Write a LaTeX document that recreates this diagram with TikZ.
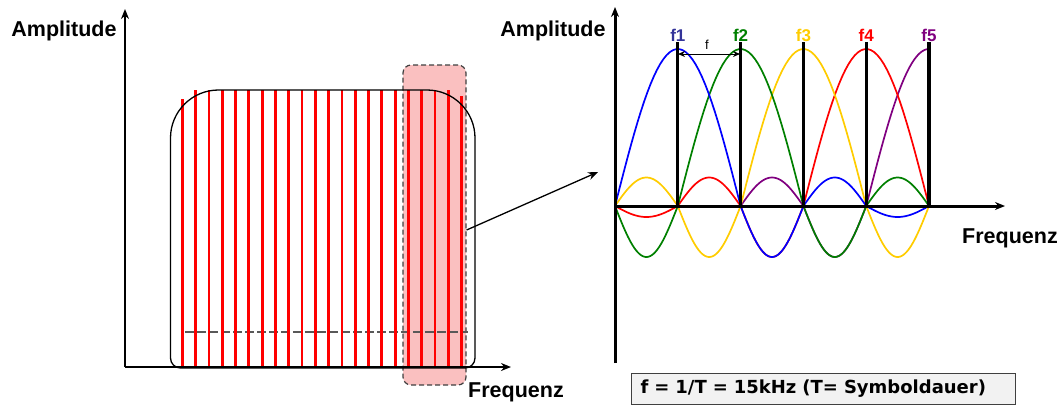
\documentclass[tikz,border=0pt]{standalone}
\usepackage{xcolor}
\usepackage{fontspec}
\setmainfont{Liberation Sans}
\newfontfamily\boxfont{DejaVu Sans}
\usetikzlibrary{arrows.meta, positioning, calc}

\definecolor{fblue}{RGB}{51,51,153}
\definecolor{fgreen}{RGB}{0,128,0}
\definecolor{fyellow}{RGB}{255,204,0}
\definecolor{fpurple}{RGB}{128,0,128}
\definecolor{pinkfill}{RGB}{250,192,192}

% one lobe of a subcarrier spectrum: colour, start, width, height, part drawn
\newcommand{\lobe}[5]{%
  \draw[curve, #1] plot[domain=0:#5, samples=40]
    ({615+(#2+\x*#3)*62.8}, {206-(#4)*sin(\x*180)});}

\begin{document}
\begin{tikzpicture}[x=1pt, y=-1pt,
    axis/.style={line width=2.6pt},
    carrier/.style={red, line width=2.8pt},
    curve/.style={line width=1.7pt},
    peak/.style={line width=3.2pt},
    lbl/.style={font=\fontsize{21.5}{24}\selectfont\bfseries, inner sep=0pt},
    flabel/.style={font=\fontsize{17}{20}\selectfont\bfseries, inner sep=0pt}]
    \useasboundingbox (0,0) rectangle (1063,405);

    % left: whole band
    \node[fill=pinkfill, draw=black!75, dash pattern=on 5pt off 3pt, line width=1.2pt,
        rounded corners=8pt, minimum width=63pt, minimum height=320pt] (zoom) at (434.5,225) {};
    \draw[black!65, dash pattern=on 9pt off 3pt, line width=1.2pt] (185,332) -- (468,332);
    \draw[carrier] (182.3,367) -- (182.3,99);
    \foreach \i in {1,...,20}
        \draw[carrier] ({182.3+\i*13.3},367) -- ({182.3+\i*13.3},90);
    \draw[carrier] (461.6,367) -- (461.6,96);
    \draw[line width=1.3pt] (300,368) [rounded corners=10pt] -- (170.5,368)
        [rounded corners=48pt] -- (170.5,90) -- (475,90)
        [rounded corners=10pt] -- (475,368) -- cycle;
    \coordinate (o1) at (125,367);
    \draw[axis, -{Stealth[length=10pt, width=8pt]}] (o1) -- (125,9);
    \draw[axis, -{Stealth[length=10pt, width=8pt]}] (o1) -- (511,367);
    \node[lbl] (amp1) at (64,31) {Amplitude};
    \node[lbl] (freq1) at (516,392) {Frequenz};

    % right: subcarriers
    \lobe{fpurple}{2}{1}{28.5}{1}
    \lobe{fpurple}{3}{1}{-51}{1}
    \lobe{fpurple}{4}{2}{157}{0.5}
    \lobe{red}{0}{1}{-11}{1}
    \lobe{red}{1}{1}{28.5}{1}
    \lobe{red}{2}{1}{-51}{1}
    \lobe{red}{3}{2}{157}{1}
    \lobe{fyellow}{0}{1}{28.5}{1}
    \lobe{fyellow}{1}{1}{-51}{1}
    \lobe{fyellow}{2}{2}{157}{1}
    \lobe{fyellow}{4}{1}{-51}{1}
    \lobe{fgreen}{0}{1}{-51}{1}
    \lobe{fgreen}{1}{2}{157}{1}
    \lobe{fgreen}{3}{1}{-51}{1}
    \lobe{fgreen}{4}{1}{28.5}{1}
    \lobe{blue}{0}{2}{157}{1}
    \lobe{blue}{2}{1}{-51}{1}
    \lobe{blue}{3}{1}{28.5}{1}
    \lobe{blue}{4}{1}{-11}{1}

    \coordinate (o2) at (615,206);
    \foreach \k/\c in {1/fblue, 2/fgreen, 3/fyellow, 4/red, 5/fpurple} {
        \coordinate (p\k) at ({615+\k*62.8},42);
        \node[flabel, text=\c] (f\k) at ({615+\k*62.8},35) {f\k};
        \draw[peak] (p\k) -- (p\k |- o2);
    }
    \draw[axis, line width=3pt, -{Stealth[length=10pt, width=8pt]}] (615,363) -- (615,7);
    \draw[axis, line width=3pt, -{Stealth[length=10pt, width=8pt]}] (o2) -- (1005,206);
    \coordinate (a1) at (678,54);
    \coordinate (a2) at (740,54);
    \draw[line width=1pt, {Stealth[length=7pt, width=6pt]}-{Stealth[length=7pt, width=6pt]}] (a1) -- (a2);
    \node[font=\fontsize{13}{15}\selectfont, inner sep=0pt] (df) at (707,45) {f};
    \node[lbl] (amp2) at (553,31) {Amplitude};
    \node[lbl] (freq2) at (1010,238) {Frequenz};

    % link and note
    \coordinate (tip) at (598,172);
    \draw[line width=1.3pt, -{Stealth[length=10pt, width=8pt]}] ([yshift=-5pt]zoom.east) -- (tip);
    \node[draw=black!75, fill=gray!10, line width=1pt, anchor=west, minimum height=31pt,
        text width=366pt, inner xsep=9pt, align=left,
        font=\boxfont\fontsize{18}{21}\selectfont\bfseries] (note) at (631,389)
        {f = 1/T = 15kHz (T= Symboldauer)};
\end{tikzpicture}
\end{document}
